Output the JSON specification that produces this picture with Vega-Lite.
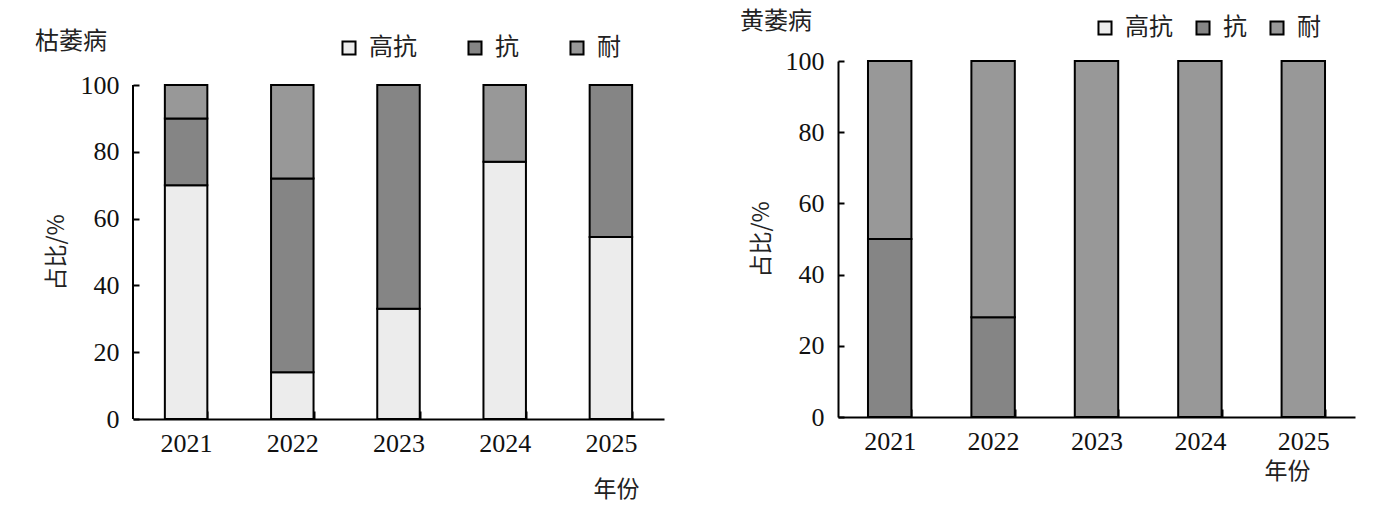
{
  "$schema": "https://vega.github.io/schema/vega-lite/v6.json",
  "padding": {"left": 35, "top": 10, "right": 5, "bottom": 5},
  "spacing": 76,
  "datasets": {
    "kuwei": [
      {"year": "2021", "level": "高抗", "rank": 1, "pct": 70},
      {"year": "2021", "level": "抗", "rank": 2, "pct": 20},
      {"year": "2021", "level": "耐", "rank": 3, "pct": 10},
      {"year": "2022", "level": "高抗", "rank": 1, "pct": 14},
      {"year": "2022", "level": "抗", "rank": 2, "pct": 58},
      {"year": "2022", "level": "耐", "rank": 3, "pct": 28},
      {"year": "2023", "level": "高抗", "rank": 1, "pct": 33},
      {"year": "2023", "level": "抗", "rank": 2, "pct": 67},
      {"year": "2024", "level": "高抗", "rank": 1, "pct": 77},
      {"year": "2024", "level": "耐", "rank": 3, "pct": 23},
      {"year": "2025", "level": "高抗", "rank": 1, "pct": 54.5},
      {"year": "2025", "level": "抗", "rank": 2, "pct": 45.5}
    ],
    "huangwei": [
      {"year": "2021", "level": "抗", "rank": 2, "pct": 50},
      {"year": "2021", "level": "耐", "rank": 3, "pct": 50},
      {"year": "2022", "level": "抗", "rank": 2, "pct": 28},
      {"year": "2022", "level": "耐", "rank": 3, "pct": 72},
      {"year": "2023", "level": "耐", "rank": 3, "pct": 100},
      {"year": "2024", "level": "耐", "rank": 3, "pct": 100},
      {"year": "2025", "level": "耐", "rank": 3, "pct": 100}
    ]
  },
  "resolve": {"legend": {"color": "independent"}},
  "hconcat": [
    {
      "width": 531,
      "height": 358,
      "title": {"text": "枯萎病", "anchor": "start", "dx": -10, "offset": -18},
      "layer": [
        {
          "data": {"name": "kuwei"},
          "mark": {"type": "bar", "stroke": "black", "strokeWidth": 2},
          "encoding": {
            "x": {
              "field": "year", "type": "nominal",
              "scale": {"paddingInner": 0.6, "paddingOuter": 0.3},
              "axis": {"labelAngle": 0, "title": "年份", "titleAnchor": "end", "titleAlign": "right", "titleBaseline": "middle", "titleX": 506, "titleY": 70}
            },
            "y": {
              "field": "pct", "type": "quantitative", "stack": "zero",
              "scale": {"domain": [0, 107.2], "nice": false},
              "axis": {"values": [0, 20, 40, 60, 80, 100], "domain": false, "title": "占比/%", "titlePadding": 12, "titleY": 191}
            },
            "color": {
              "field": "level", "type": "nominal",
              "scale": {"domain": ["高抗", "抗", "耐"], "range": ["#ececec", "#858585", "#989898"]},
              "legend": {"orient": "none", "legendX": 204, "legendY": -25, "direction": "horizontal", "columnPadding": 46, "title": null}
            },
            "order": {"field": "rank", "type": "quantitative"}
          }
        },
        {
          "data": {"values": [{}]},
          "mark": {"type": "rule", "color": "black", "strokeWidth": 2},
          "encoding": {
            "x": {"datum": 0, "type": "quantitative", "scale": {"domain": [0, 1]}, "axis": null},
            "y": {"datum": 0, "type": "quantitative"},
            "y2": {"datum": 100}
          }
        }
      ],
      "resolve": {"scale": {"x": "independent"}}
    },
    {
      "data": {"name": "huangwei"},
      "width": 517,
      "height": 356,
      "title": {"text": "黄萎病", "anchor": "start", "dx": -10, "offset": -18},
      "mark": {"type": "bar", "stroke": "black", "strokeWidth": 2},
      "encoding": {
        "x": {
          "field": "year", "type": "nominal",
          "scale": {"paddingInner": 0.58, "paddingOuter": 0.29},
          "axis": {"labelAngle": 0, "title": "年份", "titleAnchor": "end", "titleAlign": "right", "titleBaseline": "middle", "titleX": 472, "titleY": 54}
        },
        "y": {
          "field": "pct", "type": "quantitative", "stack": "zero",
          "scale": {"domain": [0, 100]},
          "axis": {"values": [0, 20, 40, 60, 80, 100], "title": "占比/%", "titlePadding": 12}
        },
        "color": {
          "field": "level", "type": "nominal",
          "scale": {"domain": ["高抗", "抗", "耐"], "range": ["#ececec", "#858585", "#989898"]},
          "legend": {"orient": "none", "legendX": 255, "legendY": -45, "direction": "horizontal", "columnPadding": 18, "title": null}
        },
        "order": {"field": "rank", "type": "quantitative"}
      }
    }
  ],
  "config": {
    "font": "Liberation Serif",
    "view": {"stroke": null},
    "title": {"font": "Noto Sans CJK SC", "fontSize": 24, "fontWeight": "normal", "color": "#222"},
    "axis": {
      "domainColor": "black", "domainWidth": 2,
      "tickColor": "black", "tickWidth": 2,
      "grid": false,
      "labelFont": "Liberation Serif", "labelFontSize": 26, "labelColor": "#111",
      "titleFont": "Noto Sans CJK SC", "titleFontSize": 23, "titleFontWeight": "normal", "titleColor": "#222"
    },
    "axisX": {"tickBand": "extent", "tickSize": -8, "labelPadding": 19},
    "axisY": {"tickSize": -6, "labelPadding": 20},
    "legend": {
      "labelFont": "Noto Sans CJK SC", "labelFontSize": 24, "labelColor": "#222",
      "symbolType": "square", "symbolSize": 170, "symbolStrokeColor": "black", "symbolStrokeWidth": 2,
      "labelOffset": 8
    }
  }
}
